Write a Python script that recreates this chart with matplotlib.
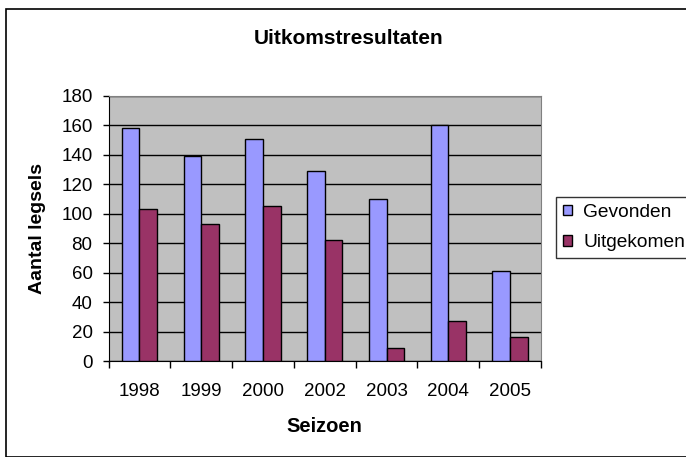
import matplotlib.pyplot as plt
import numpy as np
from matplotlib.patches import Rectangle

plt.rcParams['font.family'] = ['Liberation Sans', 'DejaVu Sans']

seizoenen = ['1998', '1999', '2000', '2002', '2003', '2004', '2005']
gevonden = [158, 139, 151, 129, 110, 160, 61]
uitgekomen = [103, 93, 105, 82, 9, 27, 16]

fig = plt.figure(figsize=(6.86, 4.57), dpi=100)
# rand om de hele grafiek
fig.patches.append(Rectangle((6/686, 0), 2, 1 - 9/457, transform=fig.transFigure,
                             fill=False, edgecolor='black', linewidth=1.2))

ax = fig.add_axes([108.5/686, 1 - 361/457, 432.5/686, 265/457])
ax.set_facecolor('#C0C0C0')

x = np.arange(len(seizoenen))
w = 0.285
ax.bar(x - w/2, gevonden, w, color='#9999FF', edgecolor='black', linewidth=1, label='Gevonden', zorder=3)
ax.bar(x + w/2, uitgekomen, w, color='#993366', edgecolor='black', linewidth=1, label='Uitgekomen', zorder=3)

ax.set_xlim(-0.5, len(seizoenen) - 0.5)
ax.set_ylim(0, 180)
ax.set_yticks(range(0, 181, 20))
ax.yaxis.grid(True, color='black', linewidth=1, zorder=1)
ax.set_axisbelow(True)

ax.set_xticks(x)
ax.set_xticklabels(seizoenen)
ax.set_xticks(np.arange(-0.5, len(seizoenen)), minor=True)
ax.tick_params(axis='x', which='major', length=0, pad=16, labelsize=13.5)
ax.tick_params(axis='x', which='minor', length=5, width=1, direction='out')
ax.tick_params(axis='y', length=4.5, width=1, direction='out', labelsize=13.5, pad=7)

for s in ['top', 'right']:
    ax.spines[s].set_color('#808080')
for s in ['left', 'bottom']:
    ax.spines[s].set_color('black')

ax.set_xlabel('Seizoen', fontsize=14.5, fontweight='bold', va='center')
ax.xaxis.set_label_coords(0.5, (361 - 426) / 265)
ax.set_ylabel('Aantal legsels', fontsize=14, fontweight='bold', va='center')
ax.yaxis.set_label_coords((38 - 108.5) / 432.5, 0.5)
fig.text(349/686, 1 - 38/457, 'Uitkomstresultaten', ha='center', va='center',
         fontsize=15, fontweight='bold')

leg = fig.legend(loc='upper left', bbox_to_anchor=(556/686, 1 - 197/457),
                 fontsize=13.8, frameon=True, fancybox=False, edgecolor='black',
                 handlelength=0.45, handleheight=0.45, handletextpad=0.6,
                 borderpad=0.36, labelspacing=0.7, borderaxespad=0)
leg.get_frame().set_linewidth(1)

fig.savefig('out.png', dpi=100)
